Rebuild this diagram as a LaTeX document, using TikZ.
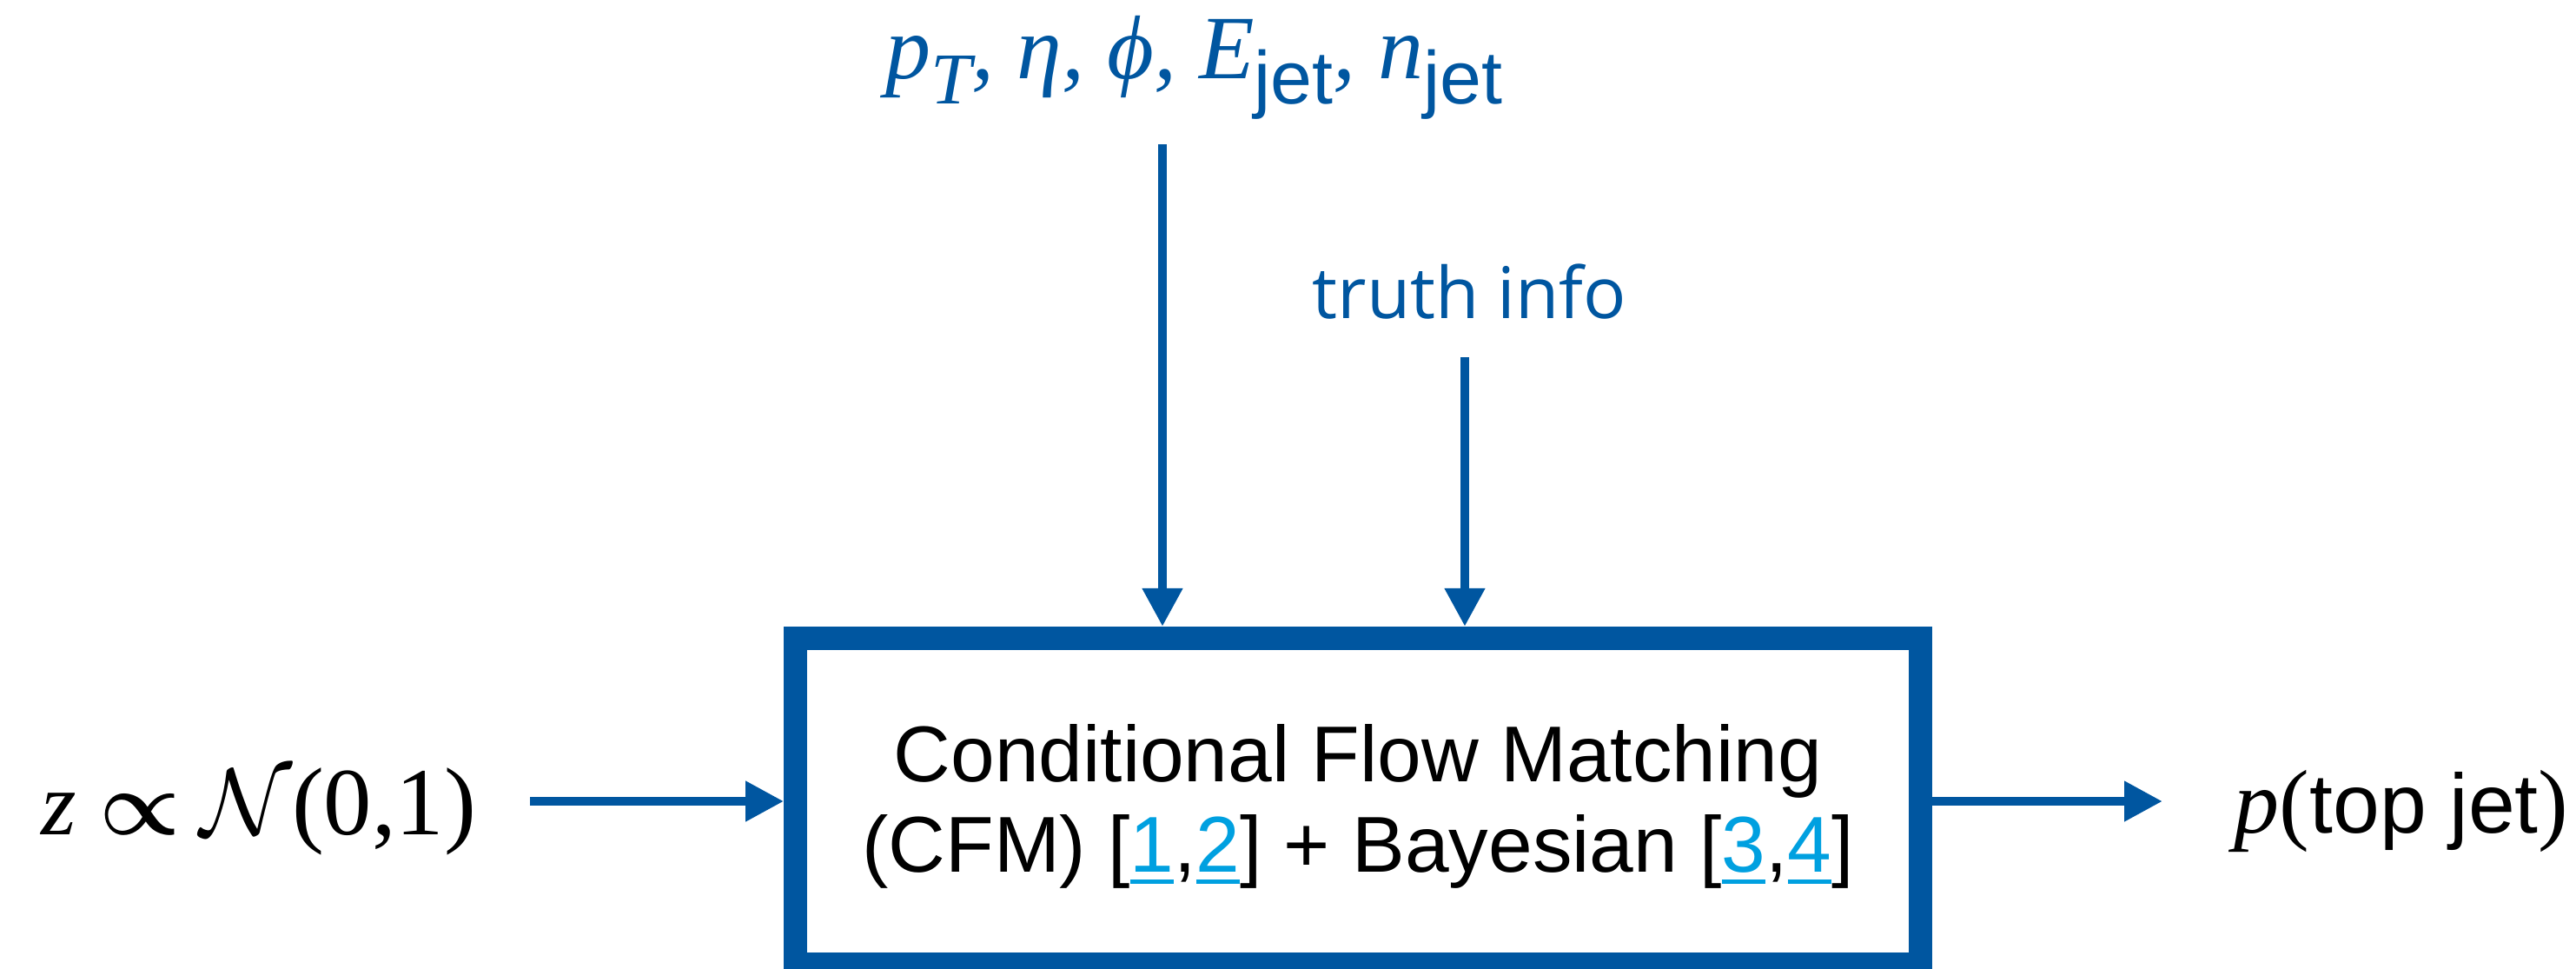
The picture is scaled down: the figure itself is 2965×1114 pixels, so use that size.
\RequirePackage{fix-cm}
\documentclass[tikz,border=0pt]{standalone}
\usepackage{fontspec}
\setmainfont{Liberation Sans}
\newfontfamily\tnr{Liberation Serif}
\newfontfamily\osans{Open Sans}
\usetikzlibrary{arrows.meta}
\definecolor{cblue}{RGB}{0,86,160}
\definecolor{linkc}{RGB}{0,160,224}
\newcommand\lnk[1]{{\color{linkc}\setbox0\hbox{#1}\rlap{\rule[-0.145em]{\wd0}{0.05em}}\box0}}
\newcommand\serifsub[1]{\raisebox{-8.25pt}{\fontsize{23.9pt}{26pt}\selectfont #1}}
\newcommand\sanssub[1]{\raisebox{-8.25pt}{\normalfont\fontsize{24.5pt}{26pt}\selectfont #1}}
\tikzset{
  flow/.style={draw=cblue, line width=3pt, -{Triangle[length=12.5pt,width=12.5pt]}},
  cfmbox/.style={draw=cblue, line width=7.68pt, minimum width=12.94cm, minimum height=3.75cm, inner sep=0pt},
  lbl/.style={inner sep=0pt, anchor=base west}
}
\begin{document}
\begin{tikzpicture}[x=0.01cm,y=-0.01cm]
\useasboundingbox (0,0) rectangle (2965,1114);
\node[cfmbox] (cfm) at (1563,922) {};
\node[inner sep=0pt, align=center, font=\fontsize{25.9pt}{29.6pt}\selectfont] (cfmtext) at (1563,928)
  {Conditional Flow Matching\\(CFM) [\lnk{1},\lnk{2}] + Bayesian [\lnk{3},\lnk{4}]};
\node[lbl, text=cblue, font=\fontsize{29.6pt}{34pt}\tnr\itshape] (cond) at (1019,90)
  {p\serifsub{T}, η, ϕ, E\sanssub{jet}, n\sanssub{jet}};
\node[lbl, text=cblue, font=\fontsize{23.3pt}{28pt}\osans] (truth) at (1510,366) {truth info};
\node[lbl, font=\fontsize{29.6pt}{34pt}\tnr] (zin) at (47,960)
  {\textit{z}\hspace{0.25em}{\boldmath$\propto$}\hspace{0.22em}\scalebox{1.05}{$\mathcal{N}$}{\fontsize{31.5pt}{34pt}\selectfont(0,1)}};
\node[lbl, font=\fontsize{29.6pt}{34pt}\tnr] (pout) at (2571,958)
  {\textit{p}({\normalfont\fontsize{27.5pt}{30pt}\selectfont top jet})};
\coordinate (condstart) at (1338,166);
\coordinate (truthstart) at (1686,411);
\coordinate (zstart) at (610,922);
\coordinate (pend) at (2489,922);
\draw[flow] (condstart) -- (condstart |- cfm.north);
\draw[flow] (truthstart) -- (truthstart |- cfm.north);
\draw[flow] (zstart) -- (cfm.west);
\draw[flow] (cfm.east) -- (pend);
\end{tikzpicture}
\end{document}
